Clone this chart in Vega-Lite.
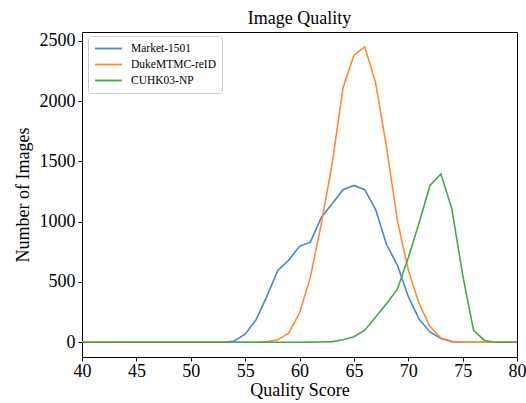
{
  "$schema": "https://vega.github.io/schema/vega-lite/v6.json",
  "autosize": "none",
  "width": 435,
  "height": 325,
  "padding": {"left": 82, "top": 32, "right": 9, "bottom": 46},
  "background": "white",
  "title": {"text": "Image Quality", "font": "Liberation Serif", "fontSize": 18, "fontWeight": "normal", "color": "black", "offset": 4},
  "config": {
    "view": {"stroke": "black", "strokeWidth": 1},
    "axis": {"labelFont": "Liberation Serif", "titleFont": "Liberation Serif", "labelFontSize": 18, "titleFontSize": 18, "titleFontWeight": "normal", "labelColor": "black", "titleColor": "black", "tickColor": "black", "tickSize": 4, "grid": false, "domain": false}
  },
  "data": {"values": [
    {"q":40,"n":0,"s":"Market-1501"},{"q":41,"n":0,"s":"Market-1501"},{"q":42,"n":0,"s":"Market-1501"},{"q":43,"n":0,"s":"Market-1501"},{"q":44,"n":0,"s":"Market-1501"},{"q":45,"n":0,"s":"Market-1501"},{"q":46,"n":0,"s":"Market-1501"},{"q":47,"n":0,"s":"Market-1501"},{"q":48,"n":0,"s":"Market-1501"},{"q":49,"n":0,"s":"Market-1501"},{"q":50,"n":0,"s":"Market-1501"},{"q":51,"n":0,"s":"Market-1501"},{"q":52,"n":0,"s":"Market-1501"},{"q":53,"n":0,"s":"Market-1501"},{"q":54,"n":10,"s":"Market-1501"},{"q":55,"n":66,"s":"Market-1501"},{"q":56,"n":185,"s":"Market-1501"},{"q":57,"n":380,"s":"Market-1501"},{"q":58,"n":596,"s":"Market-1501"},{"q":59,"n":680,"s":"Market-1501"},{"q":60,"n":795,"s":"Market-1501"},{"q":61,"n":830,"s":"Market-1501"},{"q":62,"n":1035,"s":"Market-1501"},{"q":63,"n":1148,"s":"Market-1501"},{"q":64,"n":1265,"s":"Market-1501"},{"q":65,"n":1300,"s":"Market-1501"},{"q":66,"n":1265,"s":"Market-1501"},{"q":67,"n":1100,"s":"Market-1501"},{"q":68,"n":810,"s":"Market-1501"},{"q":69,"n":640,"s":"Market-1501"},{"q":70,"n":380,"s":"Market-1501"},{"q":71,"n":190,"s":"Market-1501"},{"q":72,"n":85,"s":"Market-1501"},{"q":73,"n":30,"s":"Market-1501"},{"q":74,"n":5,"s":"Market-1501"},{"q":75,"n":0,"s":"Market-1501"},{"q":76,"n":0,"s":"Market-1501"},{"q":77,"n":0,"s":"Market-1501"},{"q":78,"n":0,"s":"Market-1501"},{"q":79,"n":0,"s":"Market-1501"},{"q":80,"n":0,"s":"Market-1501"},
    {"q":40,"n":0,"s":"DukeMTMC-reID"},{"q":41,"n":0,"s":"DukeMTMC-reID"},{"q":42,"n":0,"s":"DukeMTMC-reID"},{"q":43,"n":0,"s":"DukeMTMC-reID"},{"q":44,"n":0,"s":"DukeMTMC-reID"},{"q":45,"n":0,"s":"DukeMTMC-reID"},{"q":46,"n":0,"s":"DukeMTMC-reID"},{"q":47,"n":0,"s":"DukeMTMC-reID"},{"q":48,"n":0,"s":"DukeMTMC-reID"},{"q":49,"n":0,"s":"DukeMTMC-reID"},{"q":50,"n":0,"s":"DukeMTMC-reID"},{"q":51,"n":0,"s":"DukeMTMC-reID"},{"q":52,"n":0,"s":"DukeMTMC-reID"},{"q":53,"n":0,"s":"DukeMTMC-reID"},{"q":54,"n":0,"s":"DukeMTMC-reID"},{"q":55,"n":0,"s":"DukeMTMC-reID"},{"q":56,"n":0,"s":"DukeMTMC-reID"},{"q":57,"n":5,"s":"DukeMTMC-reID"},{"q":58,"n":20,"s":"DukeMTMC-reID"},{"q":59,"n":75,"s":"DukeMTMC-reID"},{"q":60,"n":240,"s":"DukeMTMC-reID"},{"q":61,"n":540,"s":"DukeMTMC-reID"},{"q":62,"n":980,"s":"DukeMTMC-reID"},{"q":63,"n":1480,"s":"DukeMTMC-reID"},{"q":64,"n":2110,"s":"DukeMTMC-reID"},{"q":65,"n":2380,"s":"DukeMTMC-reID"},{"q":66,"n":2450,"s":"DukeMTMC-reID"},{"q":67,"n":2150,"s":"DukeMTMC-reID"},{"q":68,"n":1620,"s":"DukeMTMC-reID"},{"q":69,"n":1010,"s":"DukeMTMC-reID"},{"q":70,"n":600,"s":"DukeMTMC-reID"},{"q":71,"n":320,"s":"DukeMTMC-reID"},{"q":72,"n":130,"s":"DukeMTMC-reID"},{"q":73,"n":35,"s":"DukeMTMC-reID"},{"q":74,"n":8,"s":"DukeMTMC-reID"},{"q":75,"n":0,"s":"DukeMTMC-reID"},{"q":76,"n":0,"s":"DukeMTMC-reID"},{"q":77,"n":0,"s":"DukeMTMC-reID"},{"q":78,"n":0,"s":"DukeMTMC-reID"},{"q":79,"n":0,"s":"DukeMTMC-reID"},{"q":80,"n":0,"s":"DukeMTMC-reID"},
    {"q":40,"n":0,"s":"CUHK03-NP"},{"q":41,"n":0,"s":"CUHK03-NP"},{"q":42,"n":0,"s":"CUHK03-NP"},{"q":43,"n":0,"s":"CUHK03-NP"},{"q":44,"n":0,"s":"CUHK03-NP"},{"q":45,"n":0,"s":"CUHK03-NP"},{"q":46,"n":0,"s":"CUHK03-NP"},{"q":47,"n":0,"s":"CUHK03-NP"},{"q":48,"n":0,"s":"CUHK03-NP"},{"q":49,"n":0,"s":"CUHK03-NP"},{"q":50,"n":0,"s":"CUHK03-NP"},{"q":51,"n":0,"s":"CUHK03-NP"},{"q":52,"n":0,"s":"CUHK03-NP"},{"q":53,"n":0,"s":"CUHK03-NP"},{"q":54,"n":0,"s":"CUHK03-NP"},{"q":55,"n":0,"s":"CUHK03-NP"},{"q":56,"n":0,"s":"CUHK03-NP"},{"q":57,"n":0,"s":"CUHK03-NP"},{"q":58,"n":0,"s":"CUHK03-NP"},{"q":59,"n":0,"s":"CUHK03-NP"},{"q":60,"n":0,"s":"CUHK03-NP"},{"q":61,"n":1,"s":"CUHK03-NP"},{"q":62,"n":2,"s":"CUHK03-NP"},{"q":63,"n":5,"s":"CUHK03-NP"},{"q":64,"n":20,"s":"CUHK03-NP"},{"q":65,"n":45,"s":"CUHK03-NP"},{"q":66,"n":100,"s":"CUHK03-NP"},{"q":67,"n":210,"s":"CUHK03-NP"},{"q":68,"n":320,"s":"CUHK03-NP"},{"q":69,"n":440,"s":"CUHK03-NP"},{"q":70,"n":700,"s":"CUHK03-NP"},{"q":71,"n":990,"s":"CUHK03-NP"},{"q":72,"n":1300,"s":"CUHK03-NP"},{"q":73,"n":1395,"s":"CUHK03-NP"},{"q":74,"n":1110,"s":"CUHK03-NP"},{"q":75,"n":560,"s":"CUHK03-NP"},{"q":76,"n":100,"s":"CUHK03-NP"},{"q":77,"n":15,"s":"CUHK03-NP"},{"q":78,"n":0,"s":"CUHK03-NP"},{"q":79,"n":0,"s":"CUHK03-NP"},{"q":80,"n":0,"s":"CUHK03-NP"}
  ]},
  "mark": {"type": "line", "strokeWidth": 1.6, "clip": true},
  "encoding": {
    "x": {"field": "q", "type": "quantitative", "title": "Quality Score",
      "scale": {"domain": [40, 80], "nice": false, "zero": false},
      "axis": {"values": [40,45,50,55,60,65,70,75,80], "labelPadding": 1, "titlePadding": 1, "labelFlush": false}},
    "y": {"field": "n", "type": "quantitative", "title": "Number of Images",
      "scale": {"domain": [-122.5, 2572.5], "nice": false, "zero": false},
      "axis": {"values": [0,500,1000,1500,2000,2500], "format": "d", "labelPadding": 3, "titlePadding": 7}},
    "color": {"field": "s", "type": "nominal", "sort": null,
      "scale": {"domain": ["Market-1501", "DukeMTMC-reID", "CUHK03-NP"], "range": ["#4a86d0", "#ff8a33", "#43a84a"]},
      "legend": {"title": null, "orient": "none", "legendX": 6, "legendY": 4, "symbolType": "stroke", "symbolSize": 729, "symbolStrokeWidth": 1.8, "clipHeight": 13,
        "labelFont": "Liberation Serif", "labelFontSize": 11.5, "labelColor": "black", "fillColor": "white", "strokeColor": "#cccccc", "cornerRadius": 3, "padding": 6, "rowPadding": 3, "labelOffset": 8}}
  }
}
